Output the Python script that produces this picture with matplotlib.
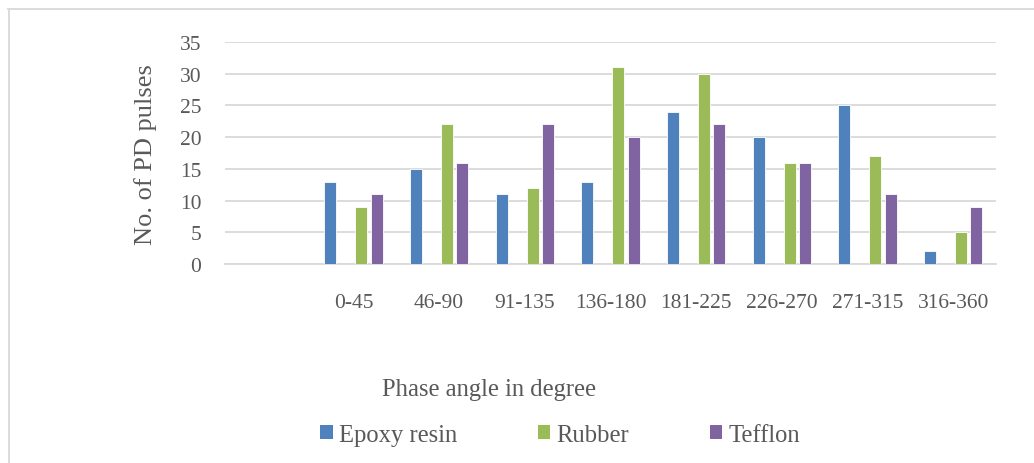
import matplotlib
matplotlib.use("Agg")
import matplotlib.pyplot as plt
from matplotlib.lines import Line2D
from matplotlib.patches import Patch
import numpy as np

# Phase-angle bins (first slot of the category axis is left blank)
categories = ["", "0-45", "46-90", "91-135", "136-180", "181-225",
              "226-270", "271-315", "316-360"]
epoxy_resin = [None, 13, 15, 11, 13, 24, 20, 25, 2]
rubber = [None, 9, 22, 12, 31, 30, 16, 17, 5]
tefflon = [None, 11, 16, 22, 20, 22, 16, 11, 9]
y_ticks = [0, 5, 10, 15, 20, 25, 30, 35]

series_names = ["Epoxy resin", "Rubber", "Tefflon"]
colors = ["#4f81bd", "#9bbb59", "#8064a2"]
# slot index of each series within a group of four slots (slot 1 unused)
slots = [0, 2, 3]

text_color = "#595959"
grid_color = "#d9d9d9"
serif = ["Liberation Serif", "DejaVu Serif"]

W, H = 1034, 464
fig = plt.figure(figsize=(W / 100, H / 100), dpi=100)

# plot area in pixel coordinates
x0, x1 = 225, 996
y_top, y_bot = 43, 265
ax = fig.add_axes([x0 / W, 1 - y_bot / H, (x1 - x0) / W, (y_bot - y_top) / H])

n = len(categories)
x = np.arange(n)
cat_px = (x1 - x0) / n
slot_w = 15.5 / cat_px
bar_w = 12 / cat_px
for vals, color, slot in zip([epoxy_resin, rubber, tefflon], colors, slots):
    xs = [xi + (slot - 1.5) * slot_w for xi, v in zip(x, vals) if v is not None]
    vs = [v for v in vals if v is not None]
    ax.bar(xs, vs, width=bar_w, color=color, edgecolor="white",
           linewidth=0.6, zorder=3)

ax.set_xlim(-0.5, n - 0.5)
ax.set_ylim(0, 35)
ax.set_yticks(y_ticks)
ax.set_yticklabels([str(t) for t in y_ticks], family=serif, fontsize=15.5,
                   color=text_color)
ax.set_xticks(x)
ax.set_xticklabels(categories, family=serif, fontsize=15.5, color=text_color)
ax.tick_params(axis="both", length=0)
ax.tick_params(axis="x", pad=21)
ax.tick_params(axis="y", pad=17)
ax.yaxis.grid(True, color=grid_color, linewidth=1.3, zorder=0)
for side in ["top", "right", "left"]:
    ax.spines[side].set_visible(False)
ax.spines["bottom"].set_color(grid_color)
ax.spines["bottom"].set_linewidth(1.3)

fig.text(146 / W, 1 - 155 / H, "No. of PD pulses", rotation=90,
         ha="center", va="center", family=serif, fontsize=19,
         color=text_color)
fig.text(489 / W, 1 - 390 / H, "Phase angle in degree", ha="center",
         va="center", family=serif, fontsize=17.7, color=text_color)

handles = [Patch(facecolor=c, edgecolor="none") for c in colors]
leg = fig.legend(handles, series_names, loc="center",
                 bbox_to_anchor=(560 / W, 1 - 436 / H), ncol=3, frameon=False,
                 prop={"family": serif, "size": 17.7}, handlelength=0.5,
                 handleheight=0.5, handletextpad=0.24, columnspacing=3.3)
for t in leg.get_texts():
    t.set_color(text_color)

# thin frame along the top and left edges of the chart
fig.add_artist(Line2D([8 / W, 1], [1 - 9.5 / H, 1 - 9.5 / H],
                      transform=fig.transFigure, color=grid_color, lw=1.3))
fig.add_artist(Line2D([8.5 / W, 8.5 / W], [0, 1 - 9.5 / H],
                      transform=fig.transFigure, color=grid_color, lw=1.3))

fig.savefig("out.png", dpi=100, facecolor="white")
